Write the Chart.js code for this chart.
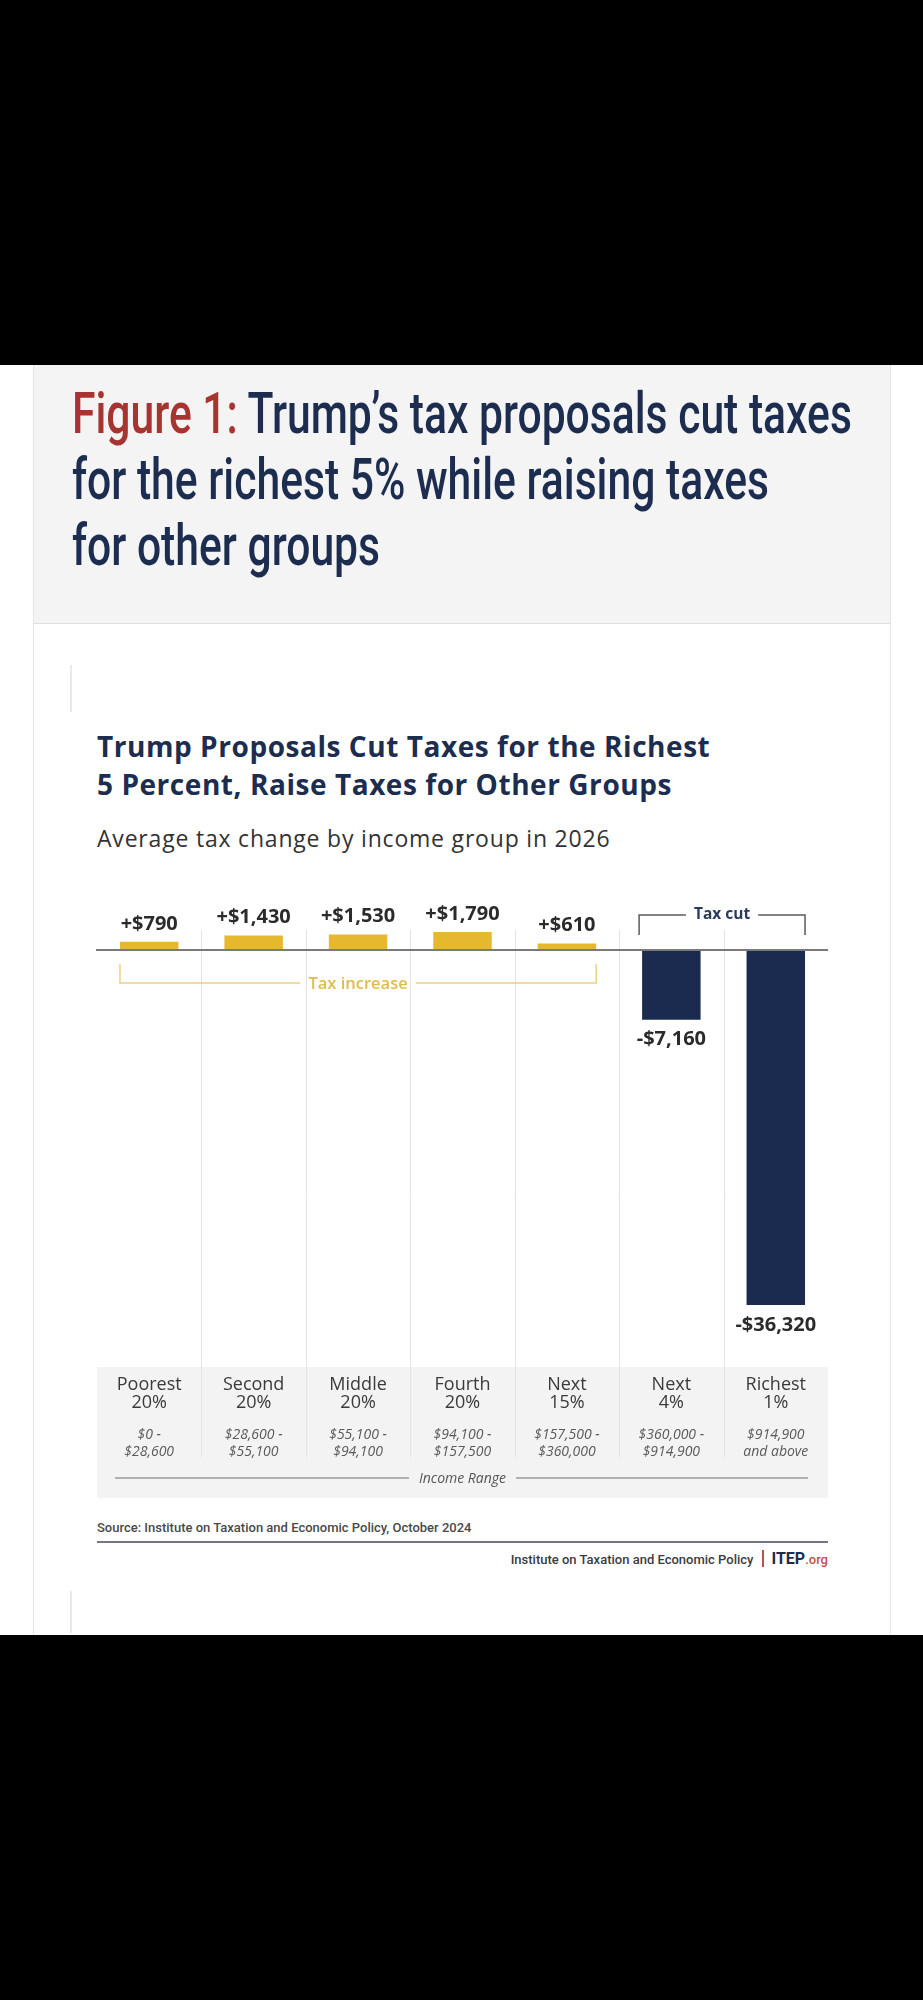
<!DOCTYPE html>
<html>
<head>
<meta charset="utf-8">
<script src="https://cdn.jsdelivr.net/npm/chart.js@4.4.1/dist/chart.umd.min.js"></script>
<style>
  html, body { margin: 0; padding: 0; }
  body { width: 923px; height: 2000px; background: #000; position: relative; overflow: hidden; }
  #page { position: absolute; left: 0; top: 365px; width: 923px; height: 1270px; background: #fff; }
  #card { position: absolute; left: 33px; top: 365px; width: 856px; height: 1270px; border-left: 1px solid #e4e4e4; border-right: 1px solid #e4e4e4; }
  #hdr { position: absolute; left: 34px; top: 365px; width: 856px; height: 258px; background: #f4f4f5; border-bottom: 1px solid #dedede; }
  #fig { position: absolute; left: 72px; top: 380px; font-family: Roboto, sans-serif; font-weight: 500; font-size: 58px; line-height: 66px; color: #1c2d4f; white-space: nowrap; }
  #fig div { transform-origin: 0 0; }
  #fig .red { color: #a63532; }
  .tick { position: absolute; left: 70px; width: 2px; background: #e8e8e8; }
  #ctitle { position: absolute; left: 97px; top: 727px; font-family: "Open Sans", sans-serif; font-weight: 700; font-size: 28px; letter-spacing: 0.55px; line-height: 38px; color: #1c2d4f; white-space: nowrap; }
  #csub { position: absolute; left: 97px; top: 823px; font-family: "Open Sans", sans-serif; font-size: 23px; letter-spacing: 0.8px; line-height: 30px; color: #333; white-space: nowrap; }
  #wrap { position: absolute; left: 0; top: 860px; width: 923px; height: 650px; }
  #source { position: absolute; left: 97px; top: 1519px; font-family: Roboto, sans-serif; font-weight: 500; font-size: 13px; line-height: 18px; color: #4a4a4a; white-space: nowrap; }
  #rule { position: absolute; left: 97px; top: 1541px; width: 731px; height: 2px; background: #6f7689; }
  #foot { position: absolute; right: 95px; top: 1549px; font-family: Roboto, sans-serif; font-weight: 500; font-size: 13px; line-height: 20px; color: #3c3c3c; white-space: nowrap; }
  #foot .bar { display: inline-block; width: 2px; height: 17px; background: #c0504d; vertical-align: -3px; margin: 0 7px 0 9px; }
  #foot .itep { font-weight: 700; font-size: 16px; color: #1c2d4f; }
  #foot .org { font-size: 13px; color: #c0504d; }
</style>
</head>
<body>
<div id="page"></div>
<div id="hdr"></div>
<div id="card"></div>
<div id="fig">
  <div id="l1"><span class="red">Figure 1:</span> Trump’s tax proposals cut taxes</div>
  <div id="l2">for the richest 5% while raising taxes</div>
  <div id="l3">for other groups</div>
</div>
<div class="tick" style="top:665px;height:47px"></div>
<div class="tick" style="top:1591px;height:42px"></div>
<div id="ctitle">Trump Proposals Cut Taxes for the Richest<br>5 Percent, Raise Taxes for Other Groups</div>
<div id="csub">Average tax change by income group in 2026</div>
<div id="wrap"><canvas id="chart"></canvas></div>
<div id="source">Source: Institute on Taxation and Economic Policy, October 2024</div>
<div id="rule"></div>
<div id="foot">Institute on Taxation and Economic Policy<span class="bar"></span><span class="itep">ITEP</span><span class="org">.org</span></div>

<script>
var groupNames = [["Poorest", "20%"], ["Second", "20%"], ["Middle", "20%"], ["Fourth", "20%"], ["Next", "15%"], ["Next", "4%"], ["Richest", "1%"]];
var incomeRanges = [["$0 -", "$28,600"], ["$28,600 -", "$55,100"], ["$55,100 -", "$94,100"], ["$94,100 -", "$157,500"], ["$157,500 -", "$360,000"], ["$360,000 -", "$914,900"], ["$914,900", "and above"]];
var taxChange = [790, 1430, 1530, 1790, 610, -7160, -36320];

var gold = "#e6b82e";
var navy = "#1b2b50";

function fitTitle() {
    var l1 = document.getElementById("l1");
    l1.style.transform = "none";
    var w = l1.scrollWidth;
    var s = 780 / w;
    ["l1", "l2", "l3"].forEach(function (id) {
        document.getElementById(id).style.transform = "scaleX(" + s + ")";
    });
}
fitTitle();
if (document.fonts) document.fonts.ready.then(fitTitle);

function money(v) {
    var s = "$" + Math.abs(v).toLocaleString("en-US");
    return (v < 0 ? "-" : "+") + s;
}

var tablePlugin = {
    id: "table",
    beforeDatasetsDraw: function (chart) {
        var ctx = chart.ctx, a = chart.chartArea, x = chart.scales.x;
        ctx.save();
        // table background
        ctx.fillStyle = "#f3f3f3";
        ctx.fillRect(a.left, 507, a.right - a.left, 131);
        // column separators
        ctx.strokeStyle = "#e3e3e3";
        ctx.lineWidth = 1;
        for (var i = 1; i < groupNames.length; i++) {
            var sx = Math.round((x.getPixelForValue(i - 1) + x.getPixelForValue(i)) / 2) + 0.5;
            ctx.beginPath();
            ctx.moveTo(sx, a.top);
            ctx.lineTo(sx, 597);
            ctx.stroke();
        }
        ctx.restore();
    },
    afterDatasetsDraw: function (chart) {
        var ctx = chart.ctx, a = chart.chartArea, x = chart.scales.x, y = chart.scales.y;
        var meta = chart.getDatasetMeta(0);
        ctx.save();
        // zero line
        var y0 = Math.round(y.getPixelForValue(0));
        ctx.strokeStyle = "#7a7a7a";
        ctx.lineWidth = 2;
        ctx.beginPath();
        ctx.moveTo(a.left - 1, y0);
        ctx.lineTo(a.right, y0);
        ctx.stroke();

        // value labels
        ctx.fillStyle = "#2b2b2b";
        ctx.font = "700 20px 'Open Sans'";
        ctx.textAlign = "center";
        ctx.textBaseline = "middle";
        meta.data.forEach(function (bar, i) {
            var v = taxChange[i];
            var ly = v >= 0 ? bar.y - 18 : bar.y + 20;
            ctx.fillText(money(v), bar.x, ly);
        });

        // "Tax increase" bracket
        var b0 = meta.data[0], b4 = meta.data[4];
        var xl = b0.x - b0.width / 2, xr = b4.x + b4.width / 2;
        var cx = (xl + xr) / 2;
        ctx.strokeStyle = "#ecd27e";
        ctx.lineWidth = 1.5;
        ctx.font = "600 16.5px 'Open Sans'";
        var tw = ctx.measureText("Tax increase").width;
        ctx.beginPath();
        ctx.moveTo(xl, 104); ctx.lineTo(xl, 123); ctx.lineTo(cx - tw / 2 - 8, 123);
        ctx.moveTo(cx + tw / 2 + 8, 123); ctx.lineTo(xr, 123); ctx.lineTo(xr, 104);
        ctx.stroke();
        ctx.fillStyle = "#e2bc48";
        ctx.fillText("Tax increase", cx, 124);

        // "Tax cut" bracket
        var b5 = meta.data[5], b6 = meta.data[6];
        xl = b5.x - b5.width / 2 - 3; xr = b6.x + b6.width / 2;
        cx = (xl + xr) / 2;
        ctx.font = "700 15.5px 'Open Sans'";
        tw = ctx.measureText("Tax cut").width;
        ctx.strokeStyle = "#5a5a5a";
        ctx.beginPath();
        ctx.moveTo(xl, 75); ctx.lineTo(xl, 55); ctx.lineTo(cx - tw / 2 - 8, 55);
        ctx.moveTo(cx + tw / 2 + 8, 55); ctx.lineTo(xr, 55); ctx.lineTo(xr, 75);
        ctx.stroke();
        ctx.fillStyle = "#2b3b5c";
        ctx.fillText("Tax cut", cx, 55);

        // table text
        ctx.textBaseline = "alphabetic";
        for (var i = 0; i < groupNames.length; i++) {
            var px = x.getPixelForValue(i);
            ctx.fillStyle = "#3a3a3a";
            ctx.font = "18px 'Open Sans'";
            ctx.fillText(groupNames[i][0], px, 530);
            ctx.fillText(groupNames[i][1], px, 548);
            ctx.fillStyle = "#5a5a5a";
            ctx.font = "italic 14px 'Open Sans'";
            ctx.fillText(incomeRanges[i][0], px, 579);
            ctx.fillText(incomeRanges[i][1], px, 596);
        }
        // Income Range line
        var mid = (a.left + a.right) / 2;
        ctx.font = "italic 14px 'Open Sans'";
        tw = ctx.measureText("Income Range").width;
        ctx.fillStyle = "#555";
        ctx.fillText("Income Range", mid, 623);
        ctx.strokeStyle = "#9a9a9a";
        ctx.lineWidth = 1.5;
        ctx.beginPath();
        ctx.moveTo(a.left + 18, 618); ctx.lineTo(mid - tw / 2 - 10, 618);
        ctx.moveTo(mid + tw / 2 + 10, 618); ctx.lineTo(a.right - 20, 618);
        ctx.stroke();
        ctx.restore();
    }
};

var ctx1 = document.getElementById("chart");

var data1 = {
    labels: groupNames.map(function (g) { return g.join(" "); }),
    datasets: [
        {
            label: "Average tax change",
            data: taxChange,
            backgroundColor: taxChange.map(function (v) { return v >= 0 ? gold : navy; }),
            borderWidth: 0,
            barPercentage: 0.56,
            categoryPercentage: 1.0
        }
    ]
};

var options = {
    responsive: true,
    maintainAspectRatio: false,
    animation: false,
    layout: { padding: { left: 97, right: 95, top: 70, bottom: 169 } },
    plugins: {
        legend: { display: false },
        tooltip: { enabled: false },
        title: { display: false }
    },
    scales: {
        x: { display: false },
        y: { display: false, min: -40000, max: 2000 }
    }
};

var chart1 = new Chart(ctx1, {
    type: "bar",
    data: data1,
    options: options,
    plugins: [tablePlugin]
});

if (document.fonts) document.fonts.ready.then(function () { chart1.draw(); });
</script>
</body>
</html>
